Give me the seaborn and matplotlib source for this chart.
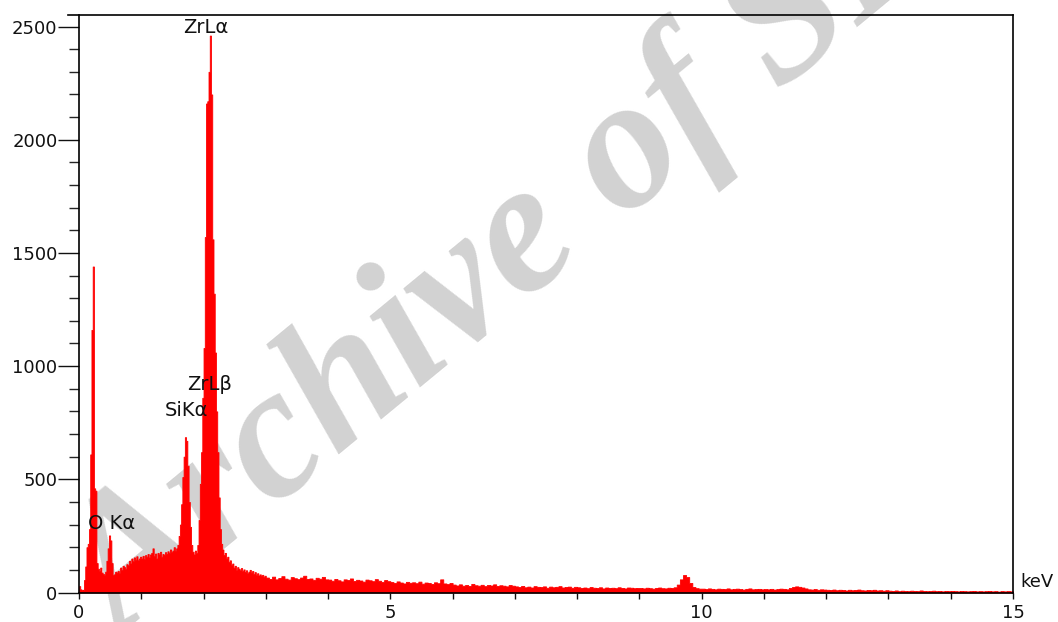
import numpy as np
import pandas as pd
import matplotlib
matplotlib.use("Agg")
import matplotlib.pyplot as plt
import seaborn as sns

# ---------------- data ----------------
# 0.00 - 3.00 keV, 0.02 keV channels (counts)
counts_low = [
    28, 14, 10, 12, 55, 115, 200, 215, 280, 610,      # 0.00-0.20
    1160, 1440, 460, 450, 130, 105, 95, 110, 88, 82,  # 0.20-0.40
    78, 92, 140, 195, 252, 230, 130, 78, 80, 92,      # 0.40-0.60
    88, 95, 84, 110, 100, 118, 112, 105, 125, 120,    # 0.60-0.80
    140, 128, 150, 138, 155, 145, 160, 142, 150, 158, # 0.80-1.00
    150, 162, 148, 165, 158, 170, 155, 168, 175, 195, # 1.00-1.20
    160, 172, 150, 175, 168, 180, 158, 170, 165, 178, # 1.20-1.40
    170, 182, 175, 190, 178, 185, 200, 182, 195, 210, # 1.40-1.60
    250, 300, 390, 510, 600, 686, 670, 560, 400, 290, # 1.60-1.80
    210, 180, 168, 185, 175, 210, 320, 480, 620, 860, # 1.80-2.00
    1080, 1570, 2160, 2170, 2300, 2460, 2200, 1560, 1320, 1060,  # 2.00-2.20
    800, 620, 420, 280, 215, 190, 165, 175, 150, 158, # 2.20-2.40
    135, 142, 120, 128, 110, 118, 100, 112, 105, 98,  # 2.40-2.60
    108, 95, 102, 90, 98, 85, 92, 100, 88, 95,        # 2.60-2.80
    82, 90, 78, 85, 75, 80, 72, 78, 70, 74,           # 2.80-3.00
]
# 3.00 - 15.00 keV, 0.05 keV channels
counts_high = [
    66, 60, 70, 58, 64, 72, 61, 57, 68, 63, 59, 66, 74, 60, 62, 56, 65, 61, 69, 58,   # 3-4
    57, 52, 60, 54, 49, 58, 55, 62, 51, 56, 53, 48, 57, 54, 50, 59, 52, 47, 55, 50,   # 4-5
    46, 42, 49, 44, 40, 47, 43, 45, 41, 48, 39, 44, 42, 38, 45, 41, 58, 40, 37, 42,   # 5-6
    35, 31, 36, 30, 33, 29, 38, 32, 30, 34, 28, 33, 31, 36, 29, 32, 30, 27, 33, 30,   # 6-7
    27, 24, 29, 23, 26, 22, 28, 25, 24, 27, 21, 26, 23, 25, 28, 22, 24, 26, 21, 25,   # 7-8
    23, 20, 22, 19, 24, 21, 20, 23, 18, 22, 20, 21, 19, 23, 20, 18, 22, 21, 19, 20,   # 8-9
    20, 18, 21, 19, 17, 20, 22, 19, 18, 21, 20, 23, 35, 58, 77, 68, 42, 24, 19, 17,   # 9-10
    17, 15, 18, 16, 14, 17, 16, 15, 18, 14, 16, 17, 15, 13, 16, 18, 14, 15, 16, 14,   # 10-11
    15, 14, 16, 13, 15, 17, 16, 14, 20, 24, 27, 25, 22, 18, 14, 13, 15, 12, 14, 13,   # 11-12
    12, 11, 13, 10, 12, 11, 9, 12, 10, 11, 13, 10, 9, 11, 10, 12, 9, 10, 8, 10,       # 12-13
    8, 7, 9, 6, 8, 7, 6, 8, 7, 6, 9, 7, 6, 7, 8, 6, 7, 5, 7, 6,                       # 13-14
    7, 6, 5, 7, 6, 5, 6, 7, 5, 6, 5, 6, 7, 5, 6, 4, 6, 5, 6, 5,                       # 14-15
]
low_width = 0.02
high_width = 0.05

peak_labels = ["ZrL\u03b1", "ZrL\u03b2", "SiK\u03b1", "O K\u03b1"]
peak_label_x = [2.04, 2.09, 1.73, 0.53]
peak_label_y = [2494, 917, 806, 307]

y_ticks = [0, 500, 1000, 1500, 2000, 2500]
x_ticks = [0, 5, 10, 15]

watermark = "Archive of SID"

# ---------------- build channels ----------------
edges_low = np.round(np.arange(len(counts_low) + 1) * low_width, 4)
edges_high = np.round(3.0 + np.arange(1, len(counts_high) + 1) * high_width, 4)
edges = np.concatenate([edges_low, edges_high])
centers = (edges[:-1] + edges[1:]) / 2
df = pd.DataFrame({"energy": centers, "counts": counts_low + counts_high})

# ---------------- figure ----------------
sns.set_style("white")
plt.rcParams["font.family"] = ["DejaVu Sans"]

W, H = 1058, 622
fig = plt.figure(figsize=(W / 100, H / 100), dpi=100)
fig.patch.set_facecolor("white")

# watermark (behind everything)
fig.text(122 / W, -0.03, watermark, rotation=39.5, rotation_mode="anchor",
         ha="left", va="baseline", fontsize=135, fontstyle="italic",
         fontweight="bold", family=["Liberation Serif", "DejaVu Serif"],
         color="#d2d2d2", zorder=-5)

ax = fig.add_axes([79 / W, 29.5 / H, 934 / W, 577.5 / H])
ax.set_facecolor("none")

sns.histplot(data=df, x="energy", weights="counts", bins=[float(e) for e in edges],
             element="step", fill=True, color="#ff0000", alpha=1.0,
             linewidth=0.6, edgecolor="#ff0000", ax=ax)

ax.set_xlim(0, 15)
ax.set_ylim(0, 2551)
ax.set_xlabel("")
ax.set_ylabel("")

ax.set_yticks(y_ticks)
ax.set_yticklabels([str(v) for v in y_ticks])
ax.set_yticks(np.arange(0, 2501, 100), minor=True)
ax.set_xticks(x_ticks)
ax.set_xticklabels([str(v) for v in x_ticks])
ax.set_xticks(np.arange(0, 16, 1), minor=True)

ax.tick_params(axis="y", which="major", direction="out", length=15, width=1,
               pad=0.5, labelsize=13, colors="#111111", left=True)
ax.tick_params(axis="y", which="minor", direction="out", length=7, width=1,
               left=True)
ax.tick_params(axis="x", which="both", direction="out", length=4.5, width=1,
               pad=3.5, labelsize=13, colors="#111111", bottom=True)

for side in ["left", "bottom", "right", "top"]:
    ax.spines[side].set_visible(True)
    ax.spines[side].set_color("black")
    ax.spines[side].set_linewidth(1.2)
ax.spines["top"].set_bounds(-0.18, 15)

for lab, lx, ly in zip(peak_labels, peak_label_x, peak_label_y):
    ax.text(lx, ly, lab, ha="center", va="center", fontsize=14, color="#111111")

ax.text(1.008, 0.019, "keV", transform=ax.transAxes, ha="left", va="center",
        fontsize=13, color="#111111")

fig.savefig("out.png", dpi=100, facecolor="white")
